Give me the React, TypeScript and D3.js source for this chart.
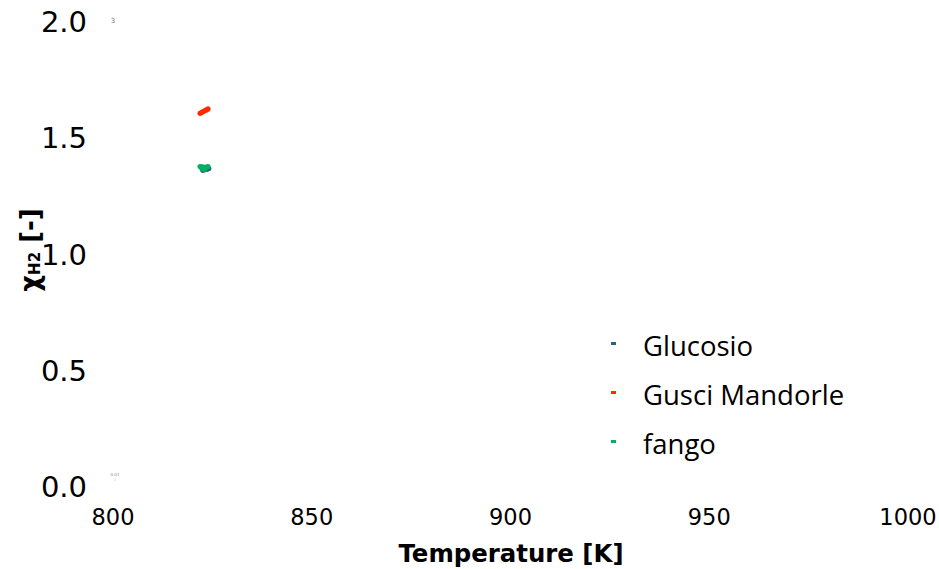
import React from "react";
import * as d3 from "d3";

const xTicks = [800, 850, 900, 950, 1000];
const yTicks = [0, 0.5, 1.0, 1.5, 2.0];

const seriesNames = ["Glucosio", "Gusci Mandorle", "fango"];
const seriesColors = ["#2f5f8f", "#ff2a00", "#00b060"];

const glucosioT = [822.6, 823.0, 823.4, 823.8, 824.1];
const glucosioY = [1.362, 1.364, 1.366, 1.368, 1.37];

const gusciT = [821.9, 822.3, 822.7, 823.1, 823.5, 823.9];
const gusciY = [1.607, 1.611, 1.615, 1.619, 1.622, 1.626];

const fangoT = [821.9, 822.3, 822.7, 823.1, 823.5, 823.9, 822.4, 823.0];
const fangoY = [1.378, 1.377, 1.376, 1.375, 1.376, 1.378, 1.368, 1.366];

const W = 939;
const H = 569;

export default function App() {
  const x = d3.scaleLinear().domain([800, 1000]).range([113, 908]);
  const y = d3.scaleLinear().domain([0, 2]).range([487, 22]);

  const series = [
    { name: seriesNames[0], color: seriesColors[0], t: glucosioT, v: glucosioY },
    { name: seriesNames[1], color: seriesColors[1], t: gusciT, v: gusciY },
    { name: seriesNames[2], color: seriesColors[2], t: fangoT, v: fangoY },
  ];

  const font = "'DejaVu Sans', Verdana, sans-serif";
  const legendFont = "'Open Sans', 'Noto Sans', sans-serif";

  return (
    <svg
      width={W}
      height={H}
      style={{ position: "absolute", left: 0, top: 0, background: "#fff" }}
    >
      {yTicks.map((t) => (
        <text
          key={"y" + t}
          x={87}
          y={y(t)}
          textAnchor="end"
          dominantBaseline="central"
          fontFamily={font}
          fontSize={29}
          fill="#000"
        >
          {t.toFixed(1)}
        </text>
      ))}
      {xTicks.map((t) => (
        <text
          key={"x" + t}
          x={x(t)}
          y={517}
          textAnchor="middle"
          dominantBaseline="central"
          fontFamily={font}
          fontSize={22.5}
          fill="#000"
        >
          {t}
        </text>
      ))}
      <text
        x={511}
        y={553}
        textAnchor="middle"
        dominantBaseline="central"
        fontFamily={font}
        fontWeight="bold"
        fontSize={24.4}
        fill="#000"
      >
        Temperature [K]
      </text>
      <text
        transform={`translate(30, 250) rotate(-90)`}
        textAnchor="middle"
        dominantBaseline="central"
        fontFamily={font}
        fontWeight="bold"
        fontSize={26}
        fill="#000"
      >
        χ<tspan fontSize={15} dy={5}>H2</tspan>
        <tspan dy={-5}> [-]</tspan>
      </text>
      <text x={113} y={21} textAnchor="middle" dominantBaseline="central" fontFamily={font} fontSize={7} fill="#777">
        3
      </text>
      <text x={115} y={474} textAnchor="middle" dominantBaseline="central" fontFamily={font} fontSize={4} fill="#888">
        0.01
      </text>
      <line x1={115} x2={115} y1={478} y2={481} stroke="#bbb" strokeWidth={0.5} />
      {series.map((s) =>
        s.t.map((t, i) => (
          <circle key={s.name + i} cx={x(t)} cy={y(s.v[i])} r={2.6} fill={s.color} />
        ))
      )}
      {series.map((s, i) => (
        <g key={"leg" + s.name}>
          <rect x={611} y={342 + i * 49} width={5} height={3} fill={s.color} />
          <text
            x={643}
            y={345 + i * 49}
            dominantBaseline="central"
            fontFamily={legendFont}
            fontSize={27.5}
            fill="#000"
          >
            {s.name}
          </text>
        </g>
      ))}
    </svg>
  );
}
